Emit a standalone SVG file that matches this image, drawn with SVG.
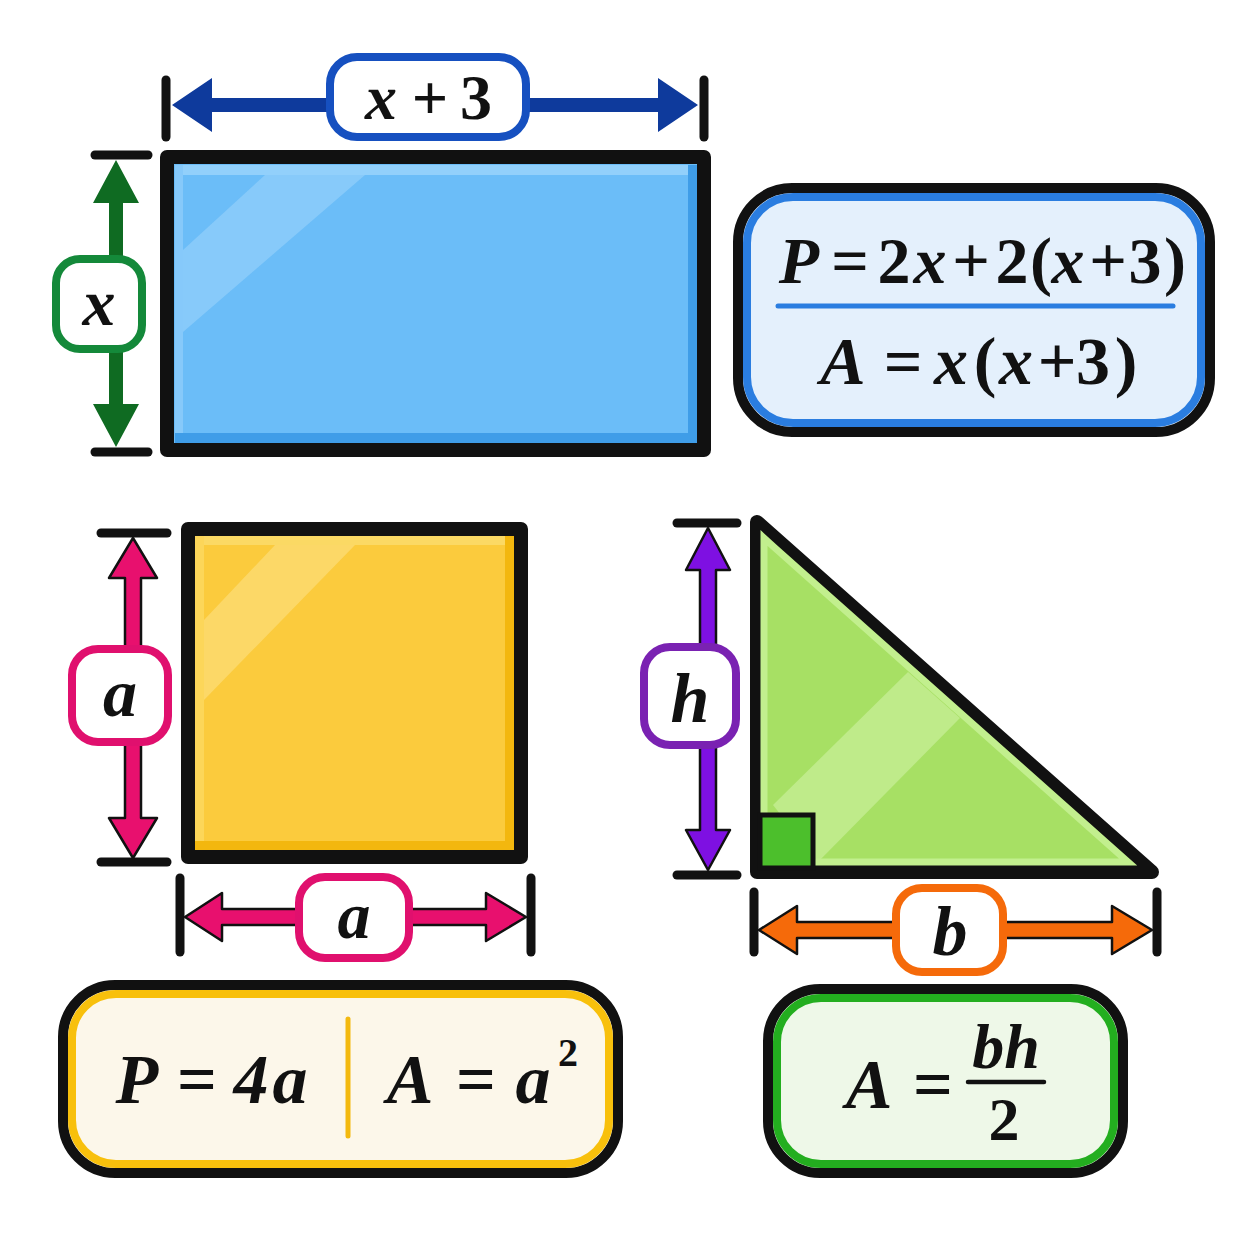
<svg xmlns="http://www.w3.org/2000/svg" width="1254" height="1254" viewBox="0 0 1254 1254">
<style>
.tick{stroke:#111;stroke-width:9;stroke-linecap:round;fill:none}
.lbl{fill:#fff;stroke-width:8}
.t{font-family:"Liberation Serif","DejaVu Serif",serif;font-weight:bold;fill:#111}
.v{font-style:italic}
.u{font-style:normal}
.shape{stroke:#111;stroke-width:14;stroke-linejoin:round}
</style>
<rect width="1254" height="1254" fill="#ffffff"/>

<g id="rectangle">
  <rect class="shape" x="167" y="157" width="537" height="293" fill="#6bbdf8"/>
  <rect x="175" y="165" width="522" height="10" fill="#92d0fb"/>
  <rect x="175" y="165" width="8" height="278" fill="#86c9fa"/>
  <rect x="175" y="433" width="522" height="10" fill="#3f9de8"/>
  <rect x="688" y="165" width="9" height="278" fill="#3f9de8"/>
  <polygon points="183,250 265,175 365,175 183,332" fill="#8fcdfa" opacity="0.8"/>
</g>

<g id="square">
  <rect class="shape" x="188" y="529" width="333" height="328" fill="#fbcb3d"/>
  <rect x="195" y="536" width="319" height="9" fill="#fbd964"/>
  <rect x="195" y="536" width="9" height="314" fill="#fcd659"/>
  <rect x="195" y="841" width="319" height="9" fill="#f3b70e"/>
  <rect x="505" y="536" width="9" height="314" fill="#f3b70e"/>
  <polygon points="204,620 275,545 355,545 204,700" fill="#fcdb72" opacity="0.8"/>
</g>

<g id="triangle">
  <polygon class="shape" points="757,522 757,872 1152,872" fill="#a7e064"/>
  <polygon points="764,538 775,548 1128,862 764,862" fill="none" stroke="#c2ef8e" stroke-width="7"/>
  <polygon points="773,805 908,672 960,718 818,862" fill="#c3ec90" opacity="0.85"/>
  <rect x="760" y="815" width="53" height="53" fill="#4cbf2c" stroke="#111" stroke-width="5"/>
</g>

<g id="connectors">
  <line class="tick" x1="166" y1="80" x2="166" y2="137"/>
  <line class="tick" x1="704" y1="80" x2="704" y2="137"/>
  <path d="M172,105 L212,78 L212,98 L658,98 L658,78 L698,105 L658,132 L658,112 L212,112 L212,132 Z" fill="#0e3a9c"/>
  <line class="tick" x1="95" y1="155" x2="148" y2="155"/>
  <line class="tick" x1="95" y1="452" x2="148" y2="452"/>
  <path d="M116,160 L139,203 L123,203 L123,404 L139,404 L116,447 L93,404 L109,404 L109,203 L93,203 Z" fill="#0f6b22"/>
  <line class="tick" x1="101" y1="533" x2="167" y2="533"/>
  <line class="tick" x1="101" y1="862" x2="167" y2="862"/>
  <path d="M133,538 L157,578 L141,578 L141,818 L157,818 L133,858 L109,818 L125,818 L125,578 L109,578 Z" fill="#e8106e" stroke="#111" stroke-width="2.5" stroke-linejoin="round"/>
  <line class="tick" x1="180" y1="878" x2="180" y2="952"/>
  <line class="tick" x1="531" y1="878" x2="531" y2="952"/>
  <path d="M185,917 L222,893 L222,909 L486,909 L486,893 L526,917 L486,941 L486,925 L222,925 L222,941 Z" fill="#e8106e" stroke="#111" stroke-width="2.5" stroke-linejoin="round"/>
  <line class="tick" x1="677" y1="523" x2="737" y2="523"/>
  <line class="tick" x1="677" y1="875" x2="737" y2="875"/>
  <path d="M708,528 L730,570 L716,570 L716,830 L730,830 L708,870 L686,830 L700,830 L700,570 L686,570 Z" fill="#7e10e2" stroke="#111" stroke-width="2.5" stroke-linejoin="round"/>
  <line class="tick" x1="754" y1="892" x2="754" y2="952"/>
  <line class="tick" x1="1157" y1="892" x2="1157" y2="952"/>
  <path d="M759,930 L797,906 L797,922 L1112,922 L1112,906 L1152,930 L1112,954 L1112,938 L797,938 L797,954 Z" fill="#f56a0a" stroke="#111" stroke-width="2.5" stroke-linejoin="round"/>
</g>

<g id="label-x3">
  <rect class="lbl" x="330" y="57" width="196" height="80" rx="27" stroke="#1650c0"/>
  <text class="t" y="119" font-size="64" text-anchor="middle"><tspan class="v" x="381">x</tspan><tspan class="u" x="430">+</tspan><tspan class="u" x="476">3</tspan></text>
</g>
<g id="label-x">
  <rect class="lbl" x="56" y="259" width="86" height="90" rx="24" stroke="#14893a"/>
  <text class="t v" x="99" y="325" font-size="66" text-anchor="middle">x</text>
</g>
<g id="label-a-left">
  <rect class="lbl" x="72" y="649" width="96" height="93" rx="26" stroke="#e0106e"/>
  <text class="t v" x="120" y="716" font-size="68" text-anchor="middle">a</text>
</g>
<g id="label-a-bottom">
  <rect class="lbl" x="299" y="877" width="110" height="81" rx="26" stroke="#e0106e"/>
  <text class="t v" x="354" y="938" font-size="66" text-anchor="middle">a</text>
</g>
<g id="label-h">
  <rect class="lbl" x="644" y="647" width="92" height="98" rx="26" stroke="#7a22b2"/>
  <text class="t v" x="690" y="722" font-size="70" text-anchor="middle">h</text>
</g>
<g id="label-b">
  <rect class="lbl" x="896" y="888" width="107" height="84" rx="26" stroke="#f56a0a"/>
  <text class="t v" x="950" y="955" font-size="70" text-anchor="middle">b</text>
</g>

<g id="formula-rectangle">
  <rect x="738" y="188" width="472" height="244" rx="54" fill="#e4f0fc" stroke="#111" stroke-width="10"/>
  <rect x="747" y="197" width="454" height="226" rx="46" fill="none" stroke="#2a7de0" stroke-width="8"/>
  <text class="t" y="283" font-size="66" text-anchor="middle"><tspan class="v" x="799">P</tspan><tspan x="850">=</tspan><tspan x="894">2</tspan><tspan class="v" x="930">x</tspan><tspan x="971">+</tspan><tspan x="1012">2</tspan><tspan x="1041">(</tspan><tspan class="v" x="1068">x</tspan><tspan x="1108">+</tspan><tspan x="1145">3</tspan><tspan x="1175">)</tspan></text>
  <line x1="778" y1="306" x2="1173" y2="306" stroke="#2a7de0" stroke-width="5" stroke-linecap="round"/>
  <text class="t" y="384" font-size="68" text-anchor="middle"><tspan class="v" x="843">A</tspan><tspan x="903">=</tspan><tspan class="v" x="951">x</tspan><tspan x="985">(</tspan><tspan class="v" x="1016">x</tspan><tspan x="1057">+</tspan><tspan x="1093">3</tspan><tspan x="1126">)</tspan></text>
</g>

<g id="formula-square">
  <rect x="63" y="985" width="555" height="188" rx="52" fill="#fcf7ea" stroke="#111" stroke-width="10"/>
  <rect x="72" y="994" width="537" height="170" rx="44" fill="none" stroke="#f8c00c" stroke-width="8"/>
  <line x1="348" y1="1019" x2="348" y2="1136" stroke="#f3b90f" stroke-width="5" stroke-linecap="round"/>
  <text class="t" y="1103" font-size="70" text-anchor="middle"><tspan class="v" x="137">P</tspan><tspan x="197">=</tspan><tspan class="v" x="251">4</tspan><tspan class="v" x="290">a</tspan></text>
  <text class="t" y="1103" font-size="70" text-anchor="middle"><tspan class="v" x="410">A</tspan><tspan x="476">=</tspan><tspan class="v" x="533">a</tspan></text>
  <text class="t u" x="568" y="1066" font-size="40" text-anchor="middle">2</text>
</g>

<g id="formula-triangle">
  <rect x="768" y="989" width="355" height="184" rx="52" fill="#eef8e8" stroke="#111" stroke-width="10"/>
  <rect x="777" y="998" width="337" height="166" rx="44" fill="none" stroke="#23ae1f" stroke-width="8"/>
  <text class="t v" x="869" y="1108" font-size="70" text-anchor="middle">A</text>
  <text class="t u" x="933" y="1108" font-size="70" text-anchor="middle">=</text>
  <line x1="968" y1="1082" x2="1044" y2="1082" stroke="#111" stroke-width="4.5" stroke-linecap="round"/>
  <text class="t v" x="1006" y="1068" font-size="64" text-anchor="middle">bh</text>
  <text class="t u" x="1004" y="1140" font-size="62" text-anchor="middle">2</text>
</g>
</svg>
